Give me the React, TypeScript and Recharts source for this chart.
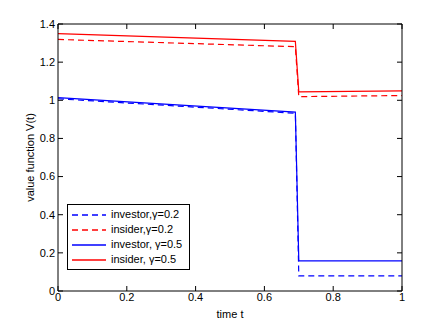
import { Line, LineChart, XAxis, YAxis } from 'recharts'

const times = [0, 0.69, 0.7, 1]
const investor02 = [1.008, 0.932, 0.079, 0.079]
const insider02 = [1.319, 1.281, 1.019, 1.025]
const investor05 = [1.014, 0.938, 0.158, 0.158]
const insider05 = [1.35, 1.309, 1.044, 1.049]

const xTicks = [0, 0.2, 0.4, 0.6, 0.8, 1]
const yTicks = [0, 0.2, 0.4, 0.6, 0.8, 1, 1.2, 1.4]

const series = [
    { key: 'investor02', name: 'investor,γ=0.2', color: '#0000ff', dash: '6 4' },
    { key: 'insider02', name: 'insider,γ=0.2', color: '#ff0000', dash: '6 4' },
    { key: 'investor05', name: 'investor, γ=0.5', color: '#0000ff', dash: undefined },
    { key: 'insider05', name: 'insider, γ=0.5', color: '#ff0000', dash: undefined },
]

const dados = times.map((t, i) => ({
    t,
    investor02: investor02[i],
    insider02: insider02[i],
    investor05: investor05[i],
    insider05: insider05[i],
}))

const font = { fontFamily: '"Liberation Sans", Arial, sans-serif', fontSize: 11, fill: '#000' }

const W = 436
const H = 319
const margin = { top: 16, right: 42, bottom: 6, left: 0 }
const axisW = 50
const axisH = 30
const plot = {
    left: margin.left + axisW,
    top: margin.top,
    right: W - margin.right,
    bottom: H - margin.bottom - axisH,
}

// top and right sides of the matlab-style box, with inward ticks
function Frame() {
    const w = plot.right - plot.left
    const h = plot.bottom - plot.top
    return (
        <svg width={W} height={H} style={{ position: 'absolute', left: 0, top: 0, pointerEvents: 'none' }}>
            <line x1={plot.left} y1={plot.top} x2={plot.right} y2={plot.top} stroke="#000" />
            <line x1={plot.right} y1={plot.top} x2={plot.right} y2={plot.bottom} stroke="#000" />
            {xTicks.map(t => {
                const x = plot.left + t * w
                return <line key={'x' + t} x1={x} y1={plot.top} x2={x} y2={plot.top + 5} stroke="#000" />
            })}
            {yTicks.map(v => {
                const y = plot.bottom - (v / 1.4) * h
                return <line key={'y' + v} x1={plot.right} y1={y} x2={plot.right - 5} y2={y} stroke="#000" />
            })}
        </svg>
    )
}

function LegendBox() {
    return (
        <div style={{
            position: 'absolute', left: 59, top: 196,
            border: '1px solid #000', background: '#fff', padding: '2px 7px 2px 4px',
            fontFamily: font.fontFamily, fontSize: 11, lineHeight: '15px',
        }}>
            {series.map(s => (
                <div key={s.key} style={{ display: 'flex', alignItems: 'center', height: 15 }}>
                    <svg width={34} height={15} style={{ marginRight: 5, display: 'block' }}>
                        <line x1={0} y1={8} x2={34} y2={8} stroke={s.color}
                            strokeWidth={1.3} strokeDasharray={s.dash} />
                    </svg>
                    <span>{s.name}</span>
                </div>
            ))}
        </div>
    )
}

export default function App() {
    return (
        <div style={{ position: 'relative', width: W, height: H }}>
            <LineChart width={W} height={H} data={dados} margin={margin}>
                <XAxis dataKey="t" type="number" domain={[0, 1]} ticks={xTicks}
                    stroke="#000" tickSize={-5} tickMargin={7} tick={font} height={axisH}
                    label={{ value: 'time t', position: 'insideBottom', offset: 3, style: font }} />
                <YAxis domain={[0, 1.4]} ticks={yTicks} stroke="#000" tickSize={-5} tickMargin={8}
                    tick={font} width={axisW}
                    label={{ value: 'value function V(t)', angle: -90, position: 'insideLeft', offset: 22, style: { ...font, textAnchor: 'middle' } }} />
                {series.map(s => (
                    <Line key={s.key} dataKey={s.key} name={s.name}
                        stroke={s.color} strokeWidth={1.2} strokeDasharray={s.dash}
                        dot={false} isAnimationActive={false} />
                ))}
            </LineChart>
            <Frame />
            <LegendBox />
        </div>
    )
}
